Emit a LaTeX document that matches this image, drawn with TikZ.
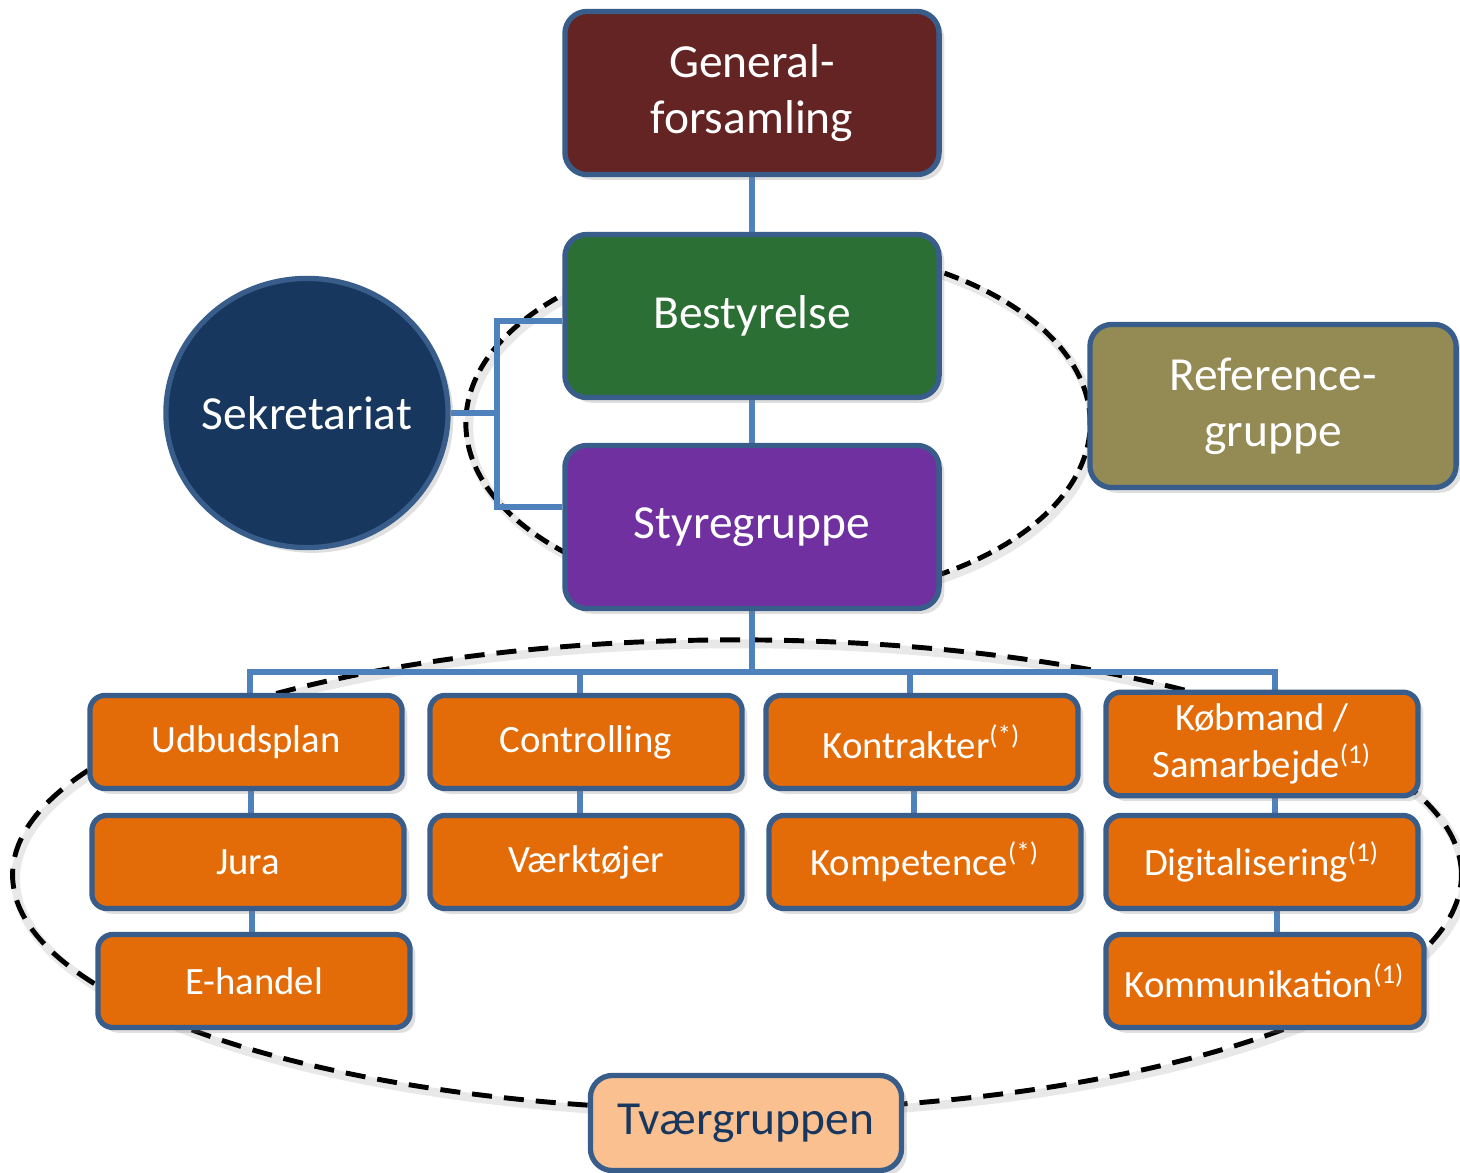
\documentclass[tikz,border=0pt]{standalone}
\usepackage{fontspec}
\setmainfont{Carlito}
\usetikzlibrary{calc}
\usetikzlibrary{positioning}
\usetikzlibrary{shadows}
\usetikzlibrary{shapes.geometric}

\definecolor{boxborder}{HTML}{385D8A}
\definecolor{linkblue}{HTML}{4F81BD}
\definecolor{genred}{HTML}{632423}
\definecolor{bestgreen}{HTML}{2B6F34}
\definecolor{stypurple}{HTML}{7030A0}
\definecolor{seknavy}{HTML}{17375E}
\definecolor{refolive}{HTML}{948A54}
\definecolor{taskorange}{HTML}{E36C09}
\definecolor{tvpeach}{HTML}{FAC090}

\pgfdeclarelayer{background}
\pgfsetlayers{background,main}

\begin{document}
\begin{tikzpicture}[x=0.01cm,y=-0.01cm,
    box/.style={draw=boxborder,line width=1.5pt,rounded corners=0.22cm,align=center,text=white,
      drop shadow={shadow xshift=1.5pt,shadow yshift=-1.5pt,opacity=0.25}},
    bigbox/.style={box,minimum width=3.74cm,minimum height=1.63cm,font=\fontsize{13.5}{16}\selectfont},
    task/.style={box,fill=taskorange,minimum width=3.12cm,minimum height=0.93cm,rounded corners=0.15cm,
      font=\fontsize{11}{13.3}\selectfont},
    link/.style={draw=linkblue,line width=1.7pt},
    ringshade/.style={draw=black!30,line width=2.5pt,opacity=0.3},
    ring/.style={draw=black,line width=1.4pt}]

  \useasboundingbox (0,0) rectangle (1460,1173);

  \node [bigbox,fill=genred] (gen) at (752,93) {General-\\forsamling};
  \node [bigbox,fill=bestgreen] (best) at (752,316) {Bestyrelse};
  \node [bigbox,fill=stypurple] (sty) at (752,527) {Styregruppe};
  \node [bigbox,fill=refolive,minimum width=3.66cm] (ref) at (1273,406) {Reference-\\gruppe};
  \node [ellipse,draw=boxborder,line width=1.5pt,fill=seknavy,inner sep=0pt,
    minimum width=2.82cm,minimum height=2.69cm,
    drop shadow={shadow xshift=1.5pt,shadow yshift=-1.5pt,opacity=0.25},
    label={[text=white,font=\fontsize{13.5}{16}\selectfont]center:Sekretariat}] (sek) at (307,413) {};

  \node [task] (udb) at (246,742) {Udbudsplan};
  \node [task] (jura) at (248,862) {Jura};
  \node [task] (ehandel) at (254,981) {E-handel};
  \node [task] (ctrl) at (586,742) {Controlling};
  \node [task] (vaerk) at (586,862) {Værktøjer};
  \node [task] (kontr) at (922,742) {Kontrakter\textsuperscript{(*)}};
  \node [task] (komp) at (925,862) {Kompetence\textsuperscript{(*)}};
  \node [task] (koeb) at (1262,744) {Købmand /\\Samarbejde\textsuperscript{(1)}};
  \node [task] (digi) at (1262,862) {Digitalisering\textsuperscript{(1)}};
  \node [task,minimum width=3.18cm] (komm) at (1265,981) {Kommunikation\textsuperscript{(1)}};

  \node [box,fill=tvpeach,text=seknavy,minimum width=3.11cm,minimum height=0.95cm,
    font=\fontsize{13.5}{16}\selectfont] (tvaer) at (746,1123) {Tværgruppen};

  \coordinate (bus) at (752,672);
  \coordinate (brk) at (497,413);

  \begin{pgfonlayer}{background}
    \draw [ringshade] (781,427) ellipse [x radius=3.12cm,y radius=1.77cm];
    \draw [ring,dash pattern=on 0.15cm off 0.08cm] (778,423) ellipse [x radius=3.12cm,y radius=1.77cm];
    \draw [ringshade] (740,879) ellipse [x radius=7.24cm,y radius=2.35cm];
    \draw [ring,dash pattern=on 0.2cm off 0.12cm] (737,875) ellipse [x radius=7.24cm,y radius=2.35cm];

    \path [link]
      (gen) -- (best)
      (best) -- (sty)
      (sty.south) -- (bus);
    \path [link]
      (sek.east) -- (brk)
      ([yshift=-0.05cm]best.west) -| (brk) |- ([yshift=0.2cm]sty.west);
    \path [link]
      (bus) -| ([xshift=0.04cm]udb.north)
      (bus) -| ([xshift=-0.06cm]ctrl.north)
      (bus) -| ([xshift=-0.12cm]kontr.north)
      (bus) -| ([xshift=0.13cm]koeb.north);
    \path [link]
      ([xshift=0.05cm]udb.south) -- ([xshift=0.05cm]udb.south |- jura.north)
      ([xshift=0.04cm]jura.south) -- ([xshift=0.04cm]jura.south |- ehandel.north)
      ([xshift=-0.06cm]ctrl.south) -- ([xshift=-0.06cm]ctrl.south |- vaerk.north)
      ([xshift=-0.08cm]kontr.south) -- ([xshift=-0.08cm]kontr.south |- komp.north)
      ([xshift=0.13cm]koeb.south) -- ([xshift=0.13cm]koeb.south |- digi.north)
      ([xshift=0.15cm]digi.south) -- ([xshift=0.15cm]digi.south |- komm.north);
  \end{pgfonlayer}

\end{tikzpicture}
\end{document}
